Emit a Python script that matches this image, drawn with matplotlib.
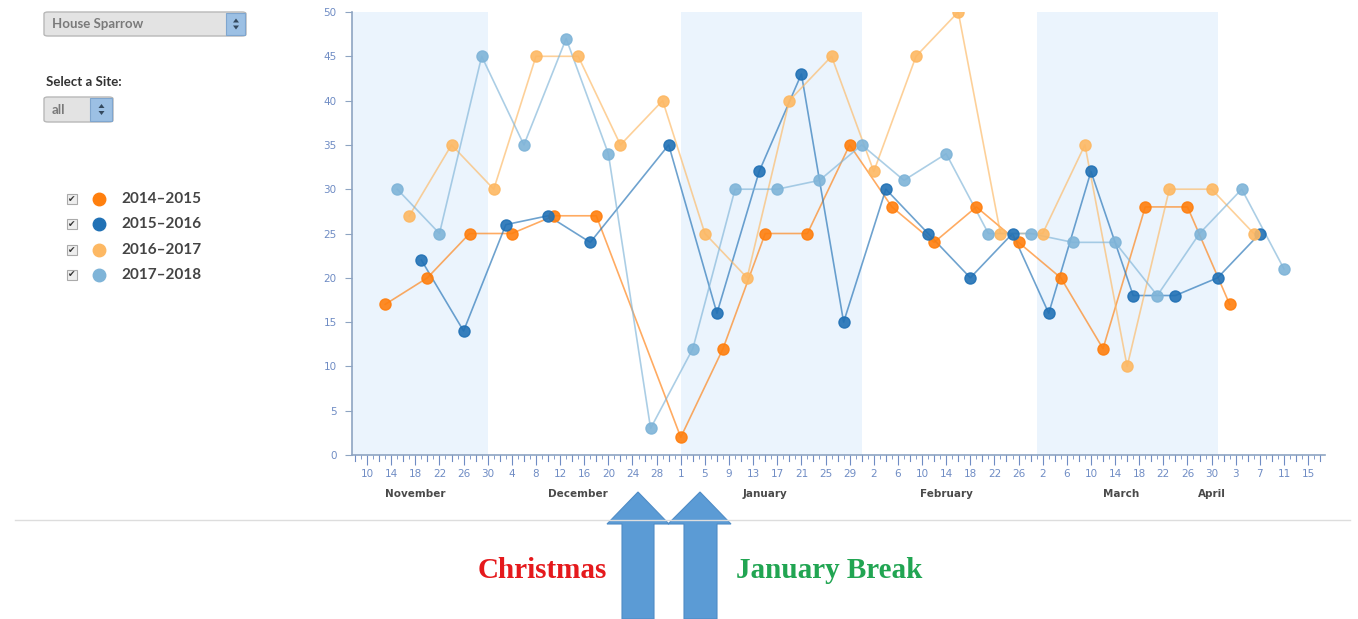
import matplotlib
matplotlib.use("Agg")
import matplotlib.pyplot as plt
import matplotlib.dates as mdates
from matplotlib.patches import Rectangle, Polygon, FancyBboxPatch
from matplotlib.lines import Line2D
from datetime import datetime, timedelta

W, H = 1358, 619

# ---- data (month-day, plotted on one Nov..Apr season axis) ----
seasons = ['2014\u20132015', '2015\u20132016', '2016\u20132017', '2017\u20132018']
colors = ['#ff7f0e', '#2171b5', '#fdb863', '#7fb4d8']

dates_1415 = ['11-13', '11-20', '11-27', '12-04', '12-11', '12-18', '01-01', '01-08', '01-15', '01-22',
              '01-29', '02-05', '02-12', '02-19', '02-26', '03-05', '03-12', '03-19', '03-26', '04-02']
vals_1415 = [17, 20, 25, 25, 27, 27, 2, 12, 25, 25, 35, 28, 24, 28, 24, 20, 12, 28, 28, 17]

dates_1516 = ['11-19', '11-26', '12-03', '12-10', '12-17', '12-30', '01-07', '01-14', '01-21', '01-28',
              '02-04', '02-11', '02-18', '02-25', '03-03', '03-10', '03-17', '03-24', '03-31', '04-07']
vals_1516 = [22, 14, 26, 27, 24, 35, 16, 32, 43, 15, 30, 25, 20, 25, 16, 32, 18, 18, 20, 25]

dates_1617 = ['11-17', '11-24', '12-01', '12-08', '12-15', '12-22', '12-29', '01-05', '01-12', '01-19',
              '01-26', '02-02', '02-09', '02-16', '02-23', '03-02', '03-09', '03-16', '03-23', '03-30', '04-06']
vals_1617 = [27, 35, 30, 45, 45, 35, 40, 25, 20, 40, 45, 32, 45, 50, 25, 25, 35, 10, 30, 30, 25]

dates_1718 = ['11-15', '11-22', '11-29', '12-06', '12-13', '12-20', '12-27', '01-03', '01-10', '01-17',
              '01-24', '01-31', '02-07', '02-14', '02-21', '02-28', '03-07', '03-14', '03-21', '03-28',
              '04-04', '04-11']
vals_1718 = [30, 25, 45, 35, 47, 34, 3, 12, 30, 30, 31, 35, 31, 34, 25, 25, 24, 24, 18, 25, 30, 21]

shaded_months = [('11-01', '11-30'), ('01-01', '01-31'), ('03-01', '03-31')]
month_names = ['November', 'December', 'January', 'February', 'March', 'April']
month_label_at = ['11-18', '12-15', '01-15', '02-14', '03-15', '03-30']
y_ticks = [0, 5, 10, 15, 20, 25, 30, 35, 40, 45, 50]


def day(md):
    m, d = map(int, md.split('-'))
    return datetime(2014 if m >= 8 else 2015, m, d)


def num(md):
    return mdates.date2num(day(md))


def px(x, y):
    return (x / W, 1 - y / H)


fig = plt.figure(figsize=(W / 100, H / 100), dpi=100)
fig.patch.set_facecolor('white')

ax = fig.add_axes([352 / W, 1 - 455 / H, (1325 - 352) / W, (455 - 12) / H])
ax.set_facecolor('white')

x0 = num('11-10') - 2.5
x1 = num('04-15') + 2.8
ax.set_xlim(x0, x1)
ax.set_ylim(0, 50)

for a, b in shaded_months:
    ax.axvspan(num(a), num(b), color='#ebf4fd', zorder=0, lw=0)

all_series = [(dates_1415, vals_1415), (dates_1516, vals_1516),
              (dates_1617, vals_1617), (dates_1718, vals_1718)]
for (ds, vs), c in zip(all_series, colors):
    xs = [num(d) for d in ds]
    ax.plot(xs, vs, color=c, lw=1.2, alpha=0.65, zorder=2)
    ax.plot(xs, vs, ls='none', marker='o', ms=8, mfc=c, mec=c, alpha=0.9, zorder=3)

# axes styling
axis_col = '#8ea4c2'
tick_col = '#6f8cc4'
for s in ['top', 'right']:
    ax.spines[s].set_visible(False)
for s in ['left', 'bottom']:
    ax.spines[s].set_color(axis_col)
    ax.spines[s].set_linewidth(1.2)

ax.set_yticks(y_ticks)
ax.tick_params(axis='y', length=5, color=axis_col, labelsize=7.5, labelcolor=tick_col, pad=6)

start = day('11-10')
label_ticks = []
mid_ticks = []
minor_ticks = []
d = start - timedelta(days=2)
while mdates.date2num(d) <= x1:
    k = (d - start).days
    if k % 4 == 0:
        label_ticks.append(d)
    elif k % 2 == 0:
        mid_ticks.append(d)
    else:
        minor_ticks.append(d)
    d += timedelta(days=1)

ax.set_xticks([mdates.date2num(t) for t in label_ticks])
ax.set_xticklabels([str(t.day) for t in label_ticks])
ax.set_xticks([mdates.date2num(t) for t in minor_ticks], minor=True)
ax.tick_params(axis='x', which='major', length=7, color=tick_col, labelsize=7.5,
               labelcolor=tick_col, pad=3)
ax.tick_params(axis='x', which='minor', length=3, color=tick_col)
xt = ax.get_xaxis_transform()
for t in mid_ticks:
    ax.plot([mdates.date2num(t)] * 2, [0, -5.5 / 443], color=tick_col, lw=0.8,
            clip_on=False, transform=xt, zorder=1)

for name, md in zip(month_names, month_label_at):
    ax.text(num(md), -39 / 443, name, transform=xt, ha='center', va='center',
            fontsize=7.5, fontweight='bold', color='#4a4a4a')

# ---- divider ----
fig.add_artist(Line2D([15 / W, 1350 / W], [1 - 520 / H] * 2, color='#dddddd', lw=1))


# ---- UI widgets ----
def dropdown(xa, ya, xb, yb, spin_x, label):
    fig.add_artist(FancyBboxPatch(px(xa, yb), (xb - xa) / W, (yb - ya) / H,
                                  boxstyle='round,pad=0,rounding_size=0.003',
                                  fc='#e3e3e3', ec='#b8b8b8', lw=1, transform=fig.transFigure))
    fig.add_artist(Rectangle(px(spin_x, yb - 1), (xb - spin_x - 1) / W, (yb - ya - 2) / H,
                             fc='#9cc0e4', ec='#7fa6cf', lw=0.8, transform=fig.transFigure))
    cx = (spin_x + xb) / 2
    cy = (ya + yb) / 2
    fig.add_artist(Polygon([px(cx - 3, cy - 1.5), px(cx + 3, cy - 1.5), px(cx, cy - 5.5)],
                           closed=True, fc='#34495e', ec='none', transform=fig.transFigure))
    fig.add_artist(Polygon([px(cx - 3, cy + 1.5), px(cx + 3, cy + 1.5), px(cx, cy + 5.5)],
                           closed=True, fc='#34495e', ec='none', transform=fig.transFigure))
    fig.text(*px(xa + 8, cy), label, ha='left', va='center', fontsize=9.5, color='#7a7a7a',
             family='Lato', fontweight='bold')


dropdown(44, 12, 246, 36, 226, 'House Sparrow')
fig.text(*px(46, 82), 'Select a Site:', ha='left', va='center', fontsize=9.5, color='#333333',
         family='Lato', fontweight='bold')
dropdown(44, 97, 113, 122, 90, 'all')

leg_y = [199, 224, 250, 275]
for lab, c, y in zip(seasons, colors, leg_y):
    fig.add_artist(Rectangle(px(67, y + 5), 10 / W, 10 / H, fc='#eeeeee', ec='#aaaaaa', lw=0.8,
                             transform=fig.transFigure))
    fig.text(*px(72, y), '\u2714', ha='center', va='center', fontsize=6.5, color='#333333',
             family='DejaVu Sans')
    fig.add_artist(Line2D([99 / W], [1 - y / H], marker='o', ms=9, mfc=c, mec=c, ls='none'))
    fig.text(*px(121, y), lab, ha='left', va='center', fontsize=11, color='#444444',
             family='Lato', fontweight='bold')

# ---- annotation below ----
fig.text(*px(542, 571), 'Christmas', ha='center', va='center', fontsize=21, color='#e5191c',
         family='Liberation Serif', fontweight='bold')
fig.text(*px(829, 571), 'January Break', ha='center', va='center', fontsize=21, color='#21a552',
         family='Liberation Serif', fontweight='bold')


def block_arrow(sx0, sx1, hx0, hx1, tip_x):
    pts = [(sx0, 619), (sx0, 524), (hx0, 524), (tip_x, 492), (hx1, 524), (sx1, 524), (sx1, 619)]
    fig.add_artist(Polygon([px(*p) for p in pts], closed=True, fc='#5b9bd5', ec='#4f8cc6', lw=0.8,
                           transform=fig.transFigure))


block_arrow(622, 654, 607, 669, 638)
block_arrow(684, 717, 668, 731, 700)

fig.savefig('out.png', dpi=100)
